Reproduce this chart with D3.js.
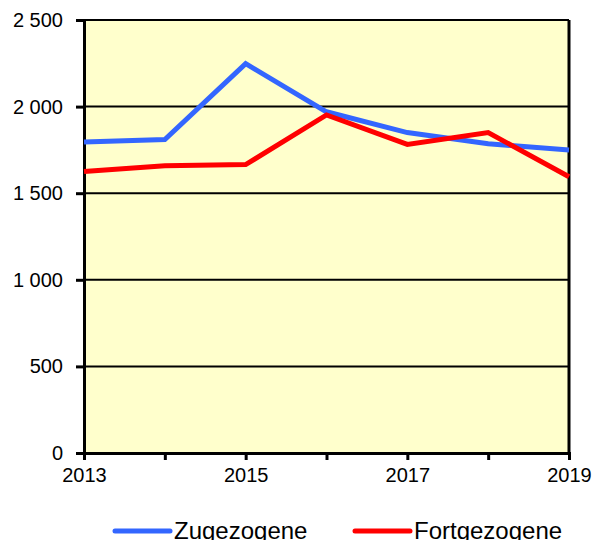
<!DOCTYPE html>
<html>
<head>
<meta charset="utf-8">
<script src="https://cdn.jsdelivr.net/npm/d3@7"></script>
<style>
  body { margin: 0; background: #fff; }
  text { font-family: "Liberation Sans", Arial, sans-serif; fill: #000; }
</style>
</head>
<body>
<div id="chart"></div>
<script>
// data
const years = [2013, 2014, 2015, 2016, 2017, 2018, 2019];
const zugezogene = [1795, 1810, 2248, 1970, 1850, 1785, 1750];
const fortgezogene = [1625, 1658, 1665, 1952, 1782, 1850, 1595];
const yTicks = [0, 500, 1000, 1500, 2000, 2500];
const xLabels = [2013, 2015, 2017, 2019];

const seriesNames = ['Zugezogene', 'Fortgezogene'];
const seriesColors = ['#3366ff', '#ff0000'];

let width = 595, height = 540;
const margin = {top: 20, right: 26, bottom: 87, left: 84};
const innerwidth = width - margin.left - margin.right;
const innerheight = height - margin.top - margin.bottom;

const svg = d3.select('#chart')
    .append('svg')
    .attr('width', width)
    .attr('height', height);

const g = svg.append('g')
    .attr('transform', 'translate(' + margin.left + ',' + margin.top + ')');

const xscale = d3.scaleLinear()
    .domain([years[0], years[years.length - 1]])
    .range([0, innerwidth]);

const yscale = d3.scaleLinear()
    .domain([0, 2500])
    .range([innerheight, 0]);

// plot background
g.append('rect')
    .attr('width', innerwidth)
    .attr('height', innerheight)
    .attr('fill', '#ffffcc');

// gridlines
g.selectAll('.grid')
    .data(yTicks.filter(d => d > 0))
    .enter()
    .append('line')
    .attr('x1', 0)
    .attr('x2', innerwidth)
    .attr('y1', d => yscale(d))
    .attr('y2', d => yscale(d))
    .attr('stroke', '#000')
    .attr('stroke-width', 2);

// right border
g.append('line')
    .attr('x1', innerwidth).attr('x2', innerwidth)
    .attr('y1', 0).attr('y2', innerheight)
    .attr('stroke', '#000')
    .attr('stroke-width', 3);

const fmt = n => d3.format(',')(n).replace(/,/g, ' ');

const yaxisG = g.append('g')
    .call(d3.axisLeft(yscale).tickValues(yTicks).tickFormat(fmt).tickSize(8).tickPadding(13));
yaxisG.select('.domain').attr('stroke-width', 3);
yaxisG.selectAll('.tick line').attr('stroke-width', 3);
yaxisG.selectAll('text').style('font-size', '20px');

const xaxisG = g.append('g')
    .attr('transform', 'translate(0,' + innerheight + ')')
    .call(d3.axisBottom(xscale).tickValues(years)
        .tickFormat(d => xLabels.includes(d) ? d : '')
        .tickSize(7).tickPadding(8));
xaxisG.select('.domain').attr('stroke-width', 3);
xaxisG.selectAll('.tick line').attr('stroke-width', 3);
xaxisG.selectAll('text').style('font-size', '20px');

const line = d3.line()
    .x((d, i) => xscale(years[i]))
    .y(d => yscale(d));

[zugezogene, fortgezogene].forEach((vals, k) => {
    g.append('path')
        .datum(vals)
        .attr('fill', 'none')
        .attr('stroke', seriesColors[k])
        .attr('stroke-width', 5)
        .attr('stroke-linejoin', 'miter')
        .attr('d', line);
});

// legend
const legendX = [115, 355];
const legend = svg.selectAll('.legend')
    .data(seriesNames)
    .enter()
    .append('g')
    .attr('transform', (d, i) => 'translate(' + legendX[i] + ',531)');

legend.append('line')
    .attr('x1', 0).attr('x2', 55)
    .attr('stroke', (d, i) => seriesColors[i])
    .attr('stroke-width', 5)
    .attr('stroke-linecap', 'round');

legend.append('text')
    .attr('x', 59)
    .attr('y', 8)
    .style('font-size', '24px')
    .text(d => d);
</script>
</body>
</html>
